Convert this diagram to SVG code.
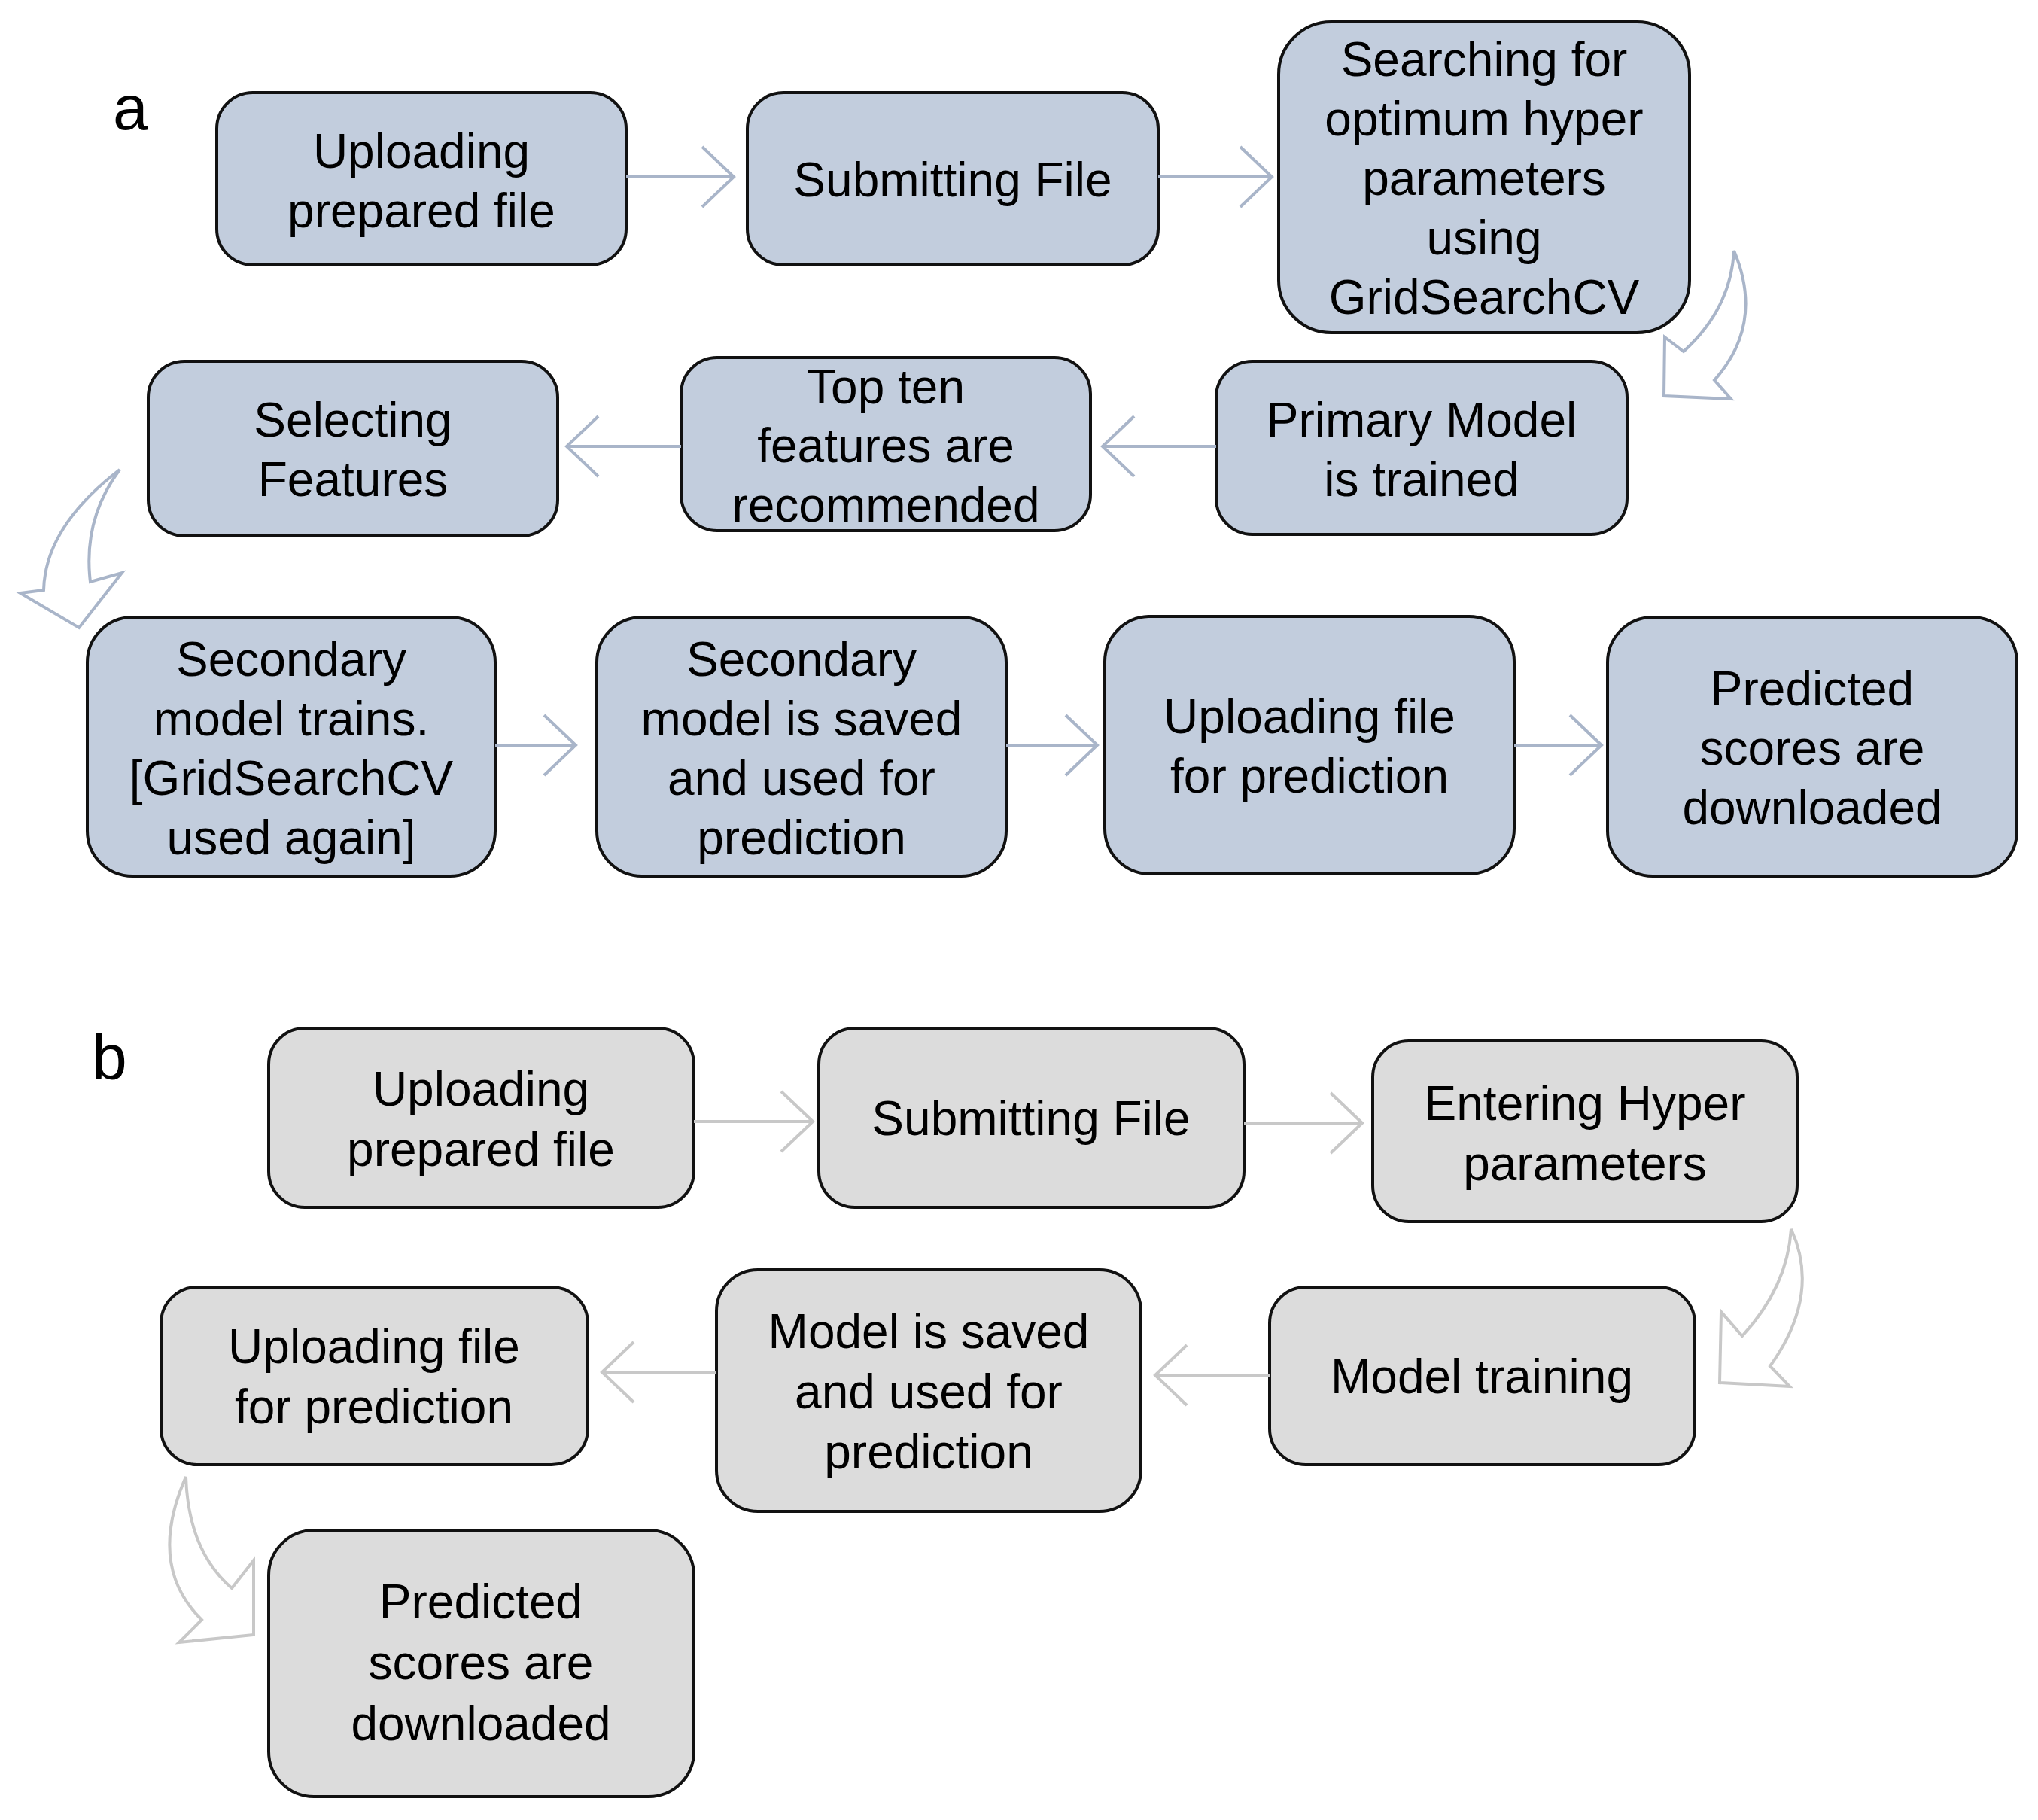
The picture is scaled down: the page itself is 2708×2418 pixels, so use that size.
<svg xmlns="http://www.w3.org/2000/svg" width="2708" height="2418" viewBox="0 0 2708 2418">
<style>
.a rect{fill:#c2cddd;stroke:#111;stroke-width:4}
.b rect{fill:#dcdcdc;stroke:#111;stroke-width:4}
text{font-family:"Liberation Sans",Arial,sans-serif;font-size:64px;fill:#000;text-anchor:middle}
.lbl{font-size:84px;text-anchor:start}
.ca{stroke:#a9b5c9;stroke-width:4;fill:none}
.cb{stroke:#c8c8c8;stroke-width:4;fill:none}
</style>
<rect width="2708" height="2418" fill="#fff"/>
<text class="lbl" x="150" y="172">a</text>
<text class="lbl" x="122" y="1434">b</text>
<g id="a1" class="a"><rect x="288" y="123" width="544" height="229" rx="48"/><text x="560" y="223">Uploading</text><text x="560" y="302">prepared file</text></g>
<g id="a2" class="a"><rect x="993" y="123" width="546" height="229" rx="48"/><text x="1266" y="261">Submitting File</text></g>
<g id="a3" class="a"><rect x="1699" y="29" width="546" height="413" rx="70"/><text x="1972" y="101">Searching for</text><text x="1972" y="180">optimum hyper</text><text x="1972" y="259">parameters</text><text x="1972" y="338">using</text><text x="1972" y="417">GridSearchCV</text></g>
<g id="a4" class="a"><rect x="1616" y="480" width="546" height="230" rx="48"/><text x="1889" y="580">Primary Model</text><text x="1889" y="659">is trained</text></g>
<g id="a5" class="a"><rect x="905" y="475" width="544" height="230" rx="48"/><text x="1177" y="536">Top ten</text><text x="1177" y="614">features are</text><text x="1177" y="693">recommended</text></g>
<g id="a6" class="a"><rect x="197" y="480" width="544" height="232" rx="48"/><text x="469" y="580">Selecting</text><text x="469" y="659">Features</text></g>
<g id="a7" class="a"><rect x="116" y="820" width="542" height="344" rx="60"/><text x="387" y="898">Secondary</text><text x="387" y="977">model trains.</text><text x="387" y="1056">[GridSearchCV</text><text x="387" y="1135">used again]</text></g>
<g id="a8" class="a"><rect x="793" y="820" width="544" height="344" rx="60"/><text x="1065" y="898">Secondary</text><text x="1065" y="977">model is saved</text><text x="1065" y="1056">and used for</text><text x="1065" y="1135">prediction</text></g>
<g id="a9" class="a"><rect x="1468" y="819" width="544" height="342" rx="60"/><text x="1740" y="974">Uploading file</text><text x="1740" y="1053">for prediction</text></g>
<g id="a10" class="a"><rect x="2136" y="820" width="544" height="344" rx="60"/><text x="2408" y="937">Predicted</text><text x="2408" y="1016">scores are</text><text x="2408" y="1095">downloaded</text></g>
<g id="b1" class="b"><rect x="357" y="1366" width="565" height="238" rx="48"/><text x="639" y="1469">Uploading</text><text x="639" y="1549">prepared file</text></g>
<g id="b2" class="b"><rect x="1088" y="1366" width="565" height="238" rx="48"/><text x="1370" y="1508">Submitting File</text></g>
<g id="b3" class="b"><rect x="1824" y="1383" width="564" height="240" rx="48"/><text x="2106" y="1488">Entering Hyper</text><text x="2106" y="1568">parameters</text></g>
<g id="b4" class="b"><rect x="1687" y="1710" width="565" height="236" rx="48"/><text x="1969" y="1851">Model training</text></g>
<g id="b5" class="b"><rect x="952" y="1687" width="564" height="321" rx="55"/><text x="1234" y="1791">Model is saved</text><text x="1234" y="1871">and used for</text><text x="1234" y="1951">prediction</text></g>
<g id="b6" class="b"><rect x="214" y="1710" width="567" height="236" rx="48"/><text x="497" y="1811">Uploading file</text><text x="497" y="1891">for prediction</text></g>
<g id="b7" class="b"><rect x="357" y="2033" width="565" height="354" rx="60"/><text x="639" y="2150">Predicted</text><text x="639" y="2231">scores are</text><text x="639" y="2312">downloaded</text></g>
<g id="connectors">
<path class="ca" d="M832,235H975M933,195L975,235L933,275"/>
<path class="ca" d="M1539,235H1690M1648,195L1690,235L1648,275"/>
<path class="ca" d="M1616,593H1465M1507,553L1465,593L1507,633"/>
<path class="ca" d="M905,593H753M795,553L753,593L795,633"/>
<path class="ca" d="M658,990H765M723,950L765,990L723,1030"/>
<path class="ca" d="M1337,990H1458M1416,950L1458,990L1416,1030"/>
<path class="ca" d="M2012,990H2128M2086,950L2128,990L2086,1030"/>
<path class="ca" d="M2304,333Q2345,430 2278,505L2300,530L2211,526L2212,448L2237,467Q2300,410 2304,333Z"/>
<path class="ca" d="M159,624Q60,700 58,784L27,788L105,834L162,761L120,773Q110,690 159,624Z"/>
<path class="cb" d="M922,1490H1080M1038,1450L1080,1490L1038,1530"/>
<path class="cb" d="M1653,1492H1810M1768,1452L1810,1492L1768,1532"/>
<path class="cb" d="M1687,1827H1535M1577,1787L1535,1827L1577,1867"/>
<path class="cb" d="M952,1823H800M842,1783L800,1823L842,1863"/>
<path class="cb" d="M2380,1633Q2420,1720 2352,1815L2378,1842L2285,1837L2287,1743L2315,1775Q2375,1710 2380,1633Z"/>
<path class="cb" d="M247,1962Q195,2080 268,2152L238,2182L337,2172L337,2073L308,2110Q250,2060 247,1962Z"/>
</g>
</svg>
